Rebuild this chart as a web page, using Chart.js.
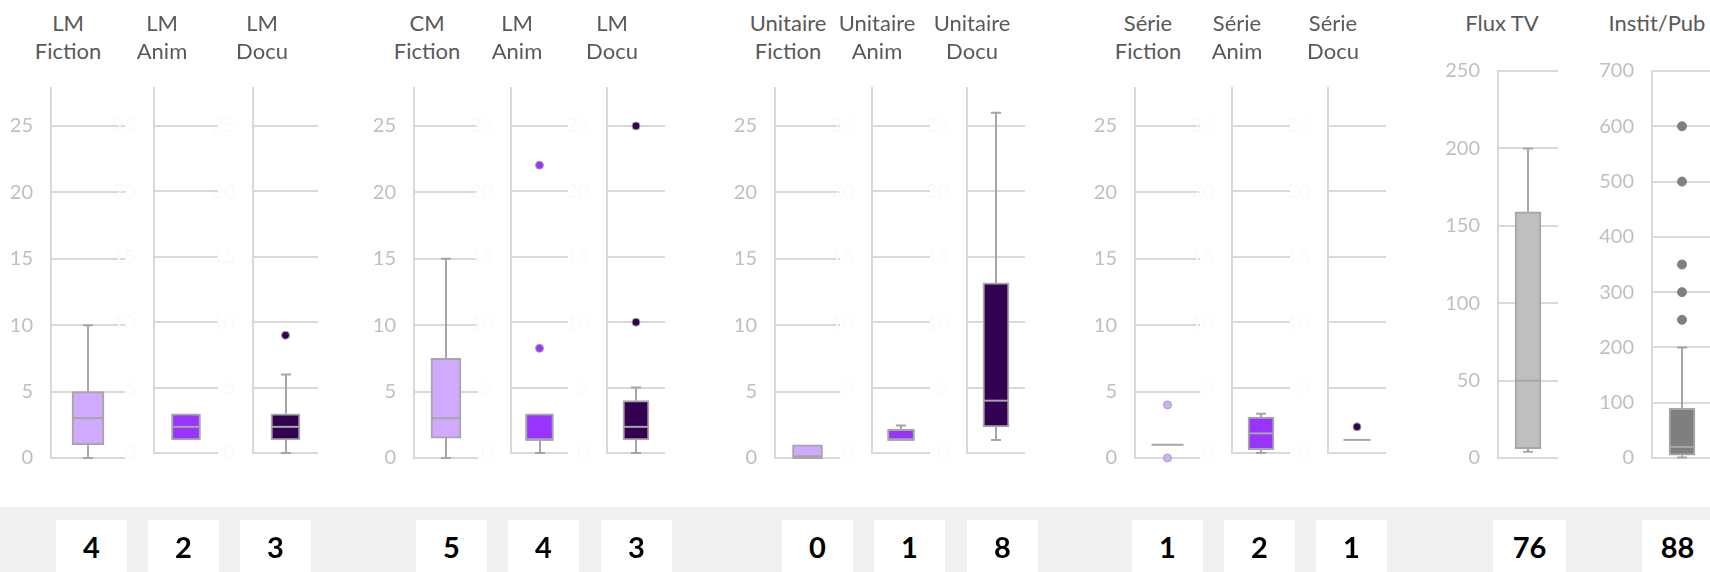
<!DOCTYPE html>
<html><head><meta charset="utf-8">
<script src="https://cdn.jsdelivr.net/npm/chart.js@4.4.1/dist/chart.umd.min.js"></script>
<style>
html,body{margin:0;padding:0;width:1710px;height:572px;overflow:hidden;background:#fff;font-family:Lato,'Open Sans',sans-serif;}
canvas{position:absolute;}
.title{position:absolute;top:9px;width:140px;text-align:center;color:#595959;font-size:22px;line-height:28px;white-space:nowrap;}
.strip{position:absolute;left:0;top:507px;width:1710px;height:65px;background:#f0f0f0;}
.cbox{position:absolute;top:520px;height:60px;background:#fff;}
.count{position:absolute;left:0;right:0;top:13px;text-align:center;font-weight:700;font-size:29px;line-height:28px;color:#000;}
</style></head><body>
<div class="strip"></div>
<script>
// ---------- DATA ----------
const categories = ['LM Fiction','LM Anim','LM Docu','CM Fiction','LM Anim','LM Docu','Unitaire Fiction','Unitaire Anim','Unitaire Docu','Série Fiction','Série Anim','Série Docu','Flux TV','Instit/Pub'];
const titleLines = [['LM','Fiction'],['LM','Anim'],['LM','Docu'],['CM','Fiction'],['LM','Anim'],['LM','Docu'],['Unitaire','Fiction'],['Unitaire','Anim'],['Unitaire','Docu'],['Série','Fiction'],['Série','Anim'],['Série','Docu'],['Flux TV'],['Instit/Pub']];
const mins    = [0, 1, 0, 0,   0, 0, 0, 1,   1,  1, 0,    1, 4,   1];
const q1s     = [1, 1, 1, 1.5, 1, 1, 0, 1,   2,  1, 0.25, 1, 6,   5];
const medians = [3, 2, 2, 3,   1, 2, 0, 1,   4,  1, 1.5,  1, 50,  20];
const q3s     = [5, 3, 3, 7.5, 3, 4, 1, 1.8, 13, 1, 2.75, 1, 159, 90];
const maxs    = [10,3, 6, 15,  3, 5, 1, 2.1, 26, 1, 3,    1, 200, 200];
const outliers = [[], [], [9], [], [22, 8], [25, 10], [], [], [], [4, 0], [], [2], [], [600, 500, 350, 300, 250]];
const counts  = [4, 2, 3, 5, 4, 3, 0, 1, 8, 1, 2, 1, 76, 88];
const ticksSmall  = [0, 5, 10, 15, 20, 25];
const ticksFlux   = [0, 50, 100, 150, 200, 250];
const ticksInstit = [0, 100, 200, 300, 400, 500, 600, 700];

// ---------- LAYOUT / STYLE ----------
const plotLeft   = [51,154,253,414,511,607,775,872,967,1135,1232,1328,1498,1652];
const plotRight  = [125,218,318,478,568,665,840,930,1025,1200,1290,1386,1558,1712];
const plotTop    = [78,78,78,78,78,78,78,78,78,78,78,78,61,61];
const plotBottom = [468,463,463,468,463,463,468,463,463,468,463,463,468,468];
const axisMax    = [27.86,27.9,27.9,27.86,27.9,27.9,27.86,27.9,27.9,27.86,27.9,27.9,250,700];
const tickSets   = [ticksSmall,ticksSmall,ticksSmall,ticksSmall,ticksSmall,ticksSmall,ticksSmall,ticksSmall,ticksSmall,ticksSmall,ticksSmall,ticksSmall,ticksFlux,ticksInstit];
const barW       = [32,29,29,30,28,26,30,27,26,32,26,27,26,26];
const titleX     = [68,162,262,427,517,612,788,877,972,1148,1237,1333,1502,1657];
const countBoxX  = [56,148,240,416,508,601,782,874,967,1132,1224,1316,1493,1642];
const LIGHT='#D0AAFF', BRIGHT='#9933FF', DARK='#330052';
const fills = [LIGHT,BRIGHT,DARK,LIGHT,BRIGHT,DARK,LIGHT,BRIGHT,DARK,LIGHT,BRIGHT,DARK,'#BFBFBF','#7F7F7F'];
const ghost = [false,true,true,false,true,true,false,true,true,false,true,true,false,false];
const LABEL_W = 60, PAD = 20, PAD_R = 10;
const FONT = "Lato, 'Open Sans', sans-serif";

const boxPlugin = {
  id: 'boxWhiskers',
  beforeDatasetsDraw(chart, args, o) {
    const y = chart.scales.y, ctx = chart.ctx;
    const bar = chart.getDatasetMeta(0).data[0];
    if (!bar) return;
    const x = Math.round(bar.x), cap = 5;
    ctx.save();
    ctx.strokeStyle = '#A6A6A6'; ctx.lineWidth = 2;
    const whisk = (from, to) => {
      const a = y.getPixelForValue(from), b = y.getPixelForValue(to);
      ctx.beginPath(); ctx.moveTo(x, a); ctx.lineTo(x, b);
      ctx.moveTo(x - cap, b); ctx.lineTo(x + cap, b); ctx.stroke();
    };
    if (o.max > o.q3) whisk(o.q3, o.max);
    if (o.min < o.q1) whisk(o.q1, o.min);
    ctx.restore();
  },
  afterDatasetsDraw(chart, args, o) {
    const y = chart.scales.y, ctx = chart.ctx;
    const bar = chart.getDatasetMeta(0).data[0];
    if (!bar) return;
    const w = bar.width, m = y.getPixelForValue(o.med);
    ctx.save();
    ctx.strokeStyle = '#A6A6A6'; ctx.lineWidth = 2;
    ctx.beginPath(); ctx.moveTo(bar.x - w/2, m); ctx.lineTo(bar.x + w/2, m); ctx.stroke();
    ctx.restore();
  }
};

categories.forEach((cat, i) => {
  const t = document.createElement('div');
  t.className = 'title';
  t.style.left = (titleX[i] - 70) + 'px';
  t.innerHTML = titleLines[i].join('<br>');
  document.body.appendChild(t);
  const b = document.createElement('div');
  b.className = 'cbox';
  b.style.left = countBoxX[i] + 'px';
  b.style.width = (i === 12 ? 73 : 71) + 'px';
  const c = document.createElement('div');
  c.className = 'count'; c.textContent = counts[i];
  b.appendChild(c);
  document.body.appendChild(b);

  const cv = document.createElement('canvas');
  const pw = plotRight[i] - plotLeft[i], ph = plotBottom[i] - plotTop[i];
  cv.width = LABEL_W + pw + PAD_R; cv.height = ph + 2 * PAD;
  cv.style.left = (plotLeft[i] - LABEL_W) + 'px';
  cv.style.top = (plotTop[i] - PAD) + 'px';
  cv.style.width = cv.width + 'px'; cv.style.height = cv.height + 'px';
  document.body.appendChild(cv);

  const ptBorder = i === 13 ? '#7F7F7F' : '#A6A6A6';
  new Chart(cv, {
    type: 'bar',
    data: {
      labels: [cat],
      datasets: [
        { type: 'bar', data: [[q1s[i], q3s[i]]], backgroundColor: fills[i], borderColor: '#A6A6A6',
          borderWidth: 2, borderSkipped: false, barThickness: barW[i] },
        { type: 'line', showLine: false, data: outliers[i].map(v => ({x: cat, y: v})),
          pointRadius: i === 13 ? 4.5 : 4, pointBackgroundColor: fills[i], pointBorderColor: ptBorder,
          pointBorderWidth: 1, clip: false }
      ]
    },
    options: {
      responsive: false, animation: false, devicePixelRatio: 1,
      layout: { padding: { top: PAD, bottom: PAD, left: 0, right: PAD_R } },
      plugins: {
        legend: { display: false }, tooltip: { enabled: false },
        boxWhiskers: { min: mins[i], q1: q1s[i], med: medians[i], q3: q3s[i], max: maxs[i] }
      },
      scales: {
        x: { type: 'category', display: false },
        y: {
          min: 0, max: axisMax[i],
          afterFit: s => { s.width = LABEL_W; },
          afterBuildTicks: s => { s.ticks = tickSets[i].map(v => ({ value: v })); },
          grid: { color: '#D9D9D9', lineWidth: 2, drawTicks: false },
          border: { color: '#D9D9D9', width: 2 },
          ticks: { color: ghost[i] ? '#FAFAFA' : '#BFBFBF', padding: 18, font: { family: FONT, size: 20 } }
        }
      }
    },
    plugins: [boxPlugin]
  });
});
</script>
</body></html>
